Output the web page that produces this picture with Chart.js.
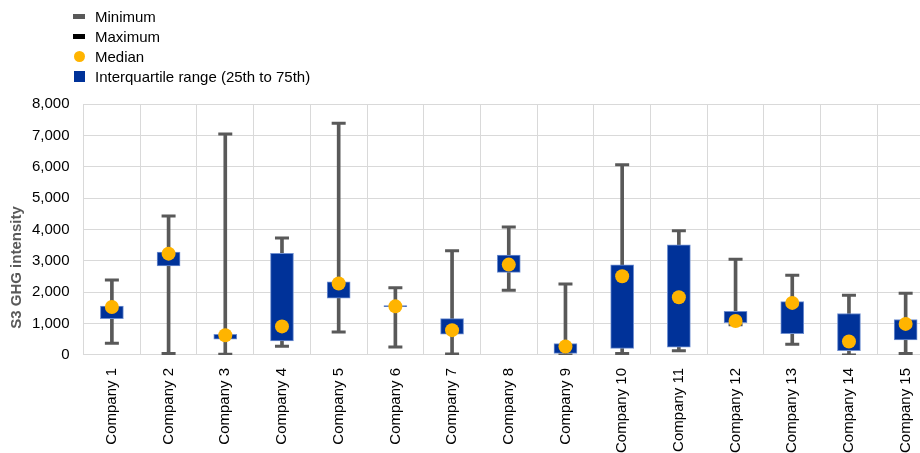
<!DOCTYPE html>
<html>
<head>
<meta charset="utf-8">
<script src="https://cdn.jsdelivr.net/npm/chart.js@4"></script>
<style>
  html, body { margin: 0; padding: 0; background: #fff; overflow: hidden; }
  #wrap { position: relative; width: 920px; height: 453px; overflow: hidden; }
  #legend { position: absolute; left: 73px; top: 6px; font: 15px Arial, "Liberation Sans", sans-serif; color: #000; }
  #legend .item { display: flex; align-items: center; height: 20px; }
  #legend .mark { width: 12px; margin-right: 10px; display: flex; justify-content: center; align-items: center; }
</style>
</head>
<body>
<div id="wrap">
  <canvas id="chart" width="944" height="466"></canvas>
  <div id="legend"></div>
</div>
<script>
const categories = ['Company 1', 'Company 2', 'Company 3', 'Company 4', 'Company 5',
  'Company 6', 'Company 7', 'Company 8', 'Company 9', 'Company 10',
  'Company 11', 'Company 12', 'Company 13', 'Company 14', 'Company 15'];
const minimum = [370, 50, 20, 280, 730, 250, 30, 2060, 0, 50, 130, 960, 340, 0, 50];
const maximum = [2390, 4430, 7040, 3730, 7390, 2140, 3320, 4080, 2260, 6060, 3960, 3050, 2540, 1900, 1970];
const quartile1 = [1160, 2840, 500, 450, 1810, 1540, 660, 2630, 50, 210, 250, 1030, 680, 140, 480];
const quartile3 = [1560, 3280, 660, 3240, 2330, 1570, 1160, 3180, 360, 2870, 3510, 1390, 1700, 1320, 1130];
const median = [1530, 3230, 630, 910, 2280, 1550, 790, 2880, 270, 2510, 1840, 1080, 1660, 430, 990];

const GREY = '#595959';
const ORANGE = '#FFB400';
const BLUE = '#003299';
const FONT = 'Arial, "Liberation Sans", sans-serif';

// y axis title sits a bit below the middle, like the original
const yTitle = {
  id: 'yTitle',
  afterDraw(chart) {
    const { ctx, chartArea } = chart;
    ctx.save();
    ctx.translate(17, (chartArea.top + chartArea.bottom) / 2 + 38);
    ctx.rotate(-Math.PI / 2);
    ctx.font = 'bold 15px ' + FONT;
    ctx.fillStyle = GREY;
    ctx.textAlign = 'center';
    ctx.textBaseline = 'middle';
    ctx.fillText('S3 GHG intensity', 0, 0);
    ctx.restore();
  }
};

const chart = new Chart(document.getElementById('chart'), {
  data: {
    labels: categories,
    datasets: [
      {
        type: 'line',
        label: 'Minimum',
        data: minimum,
        showLine: false,
        pointStyle: 'line',
        pointRadius: 7,
        pointBorderWidth: 3,
        borderColor: GREY,
        backgroundColor: GREY,
        legendColor: GREY,
        legendShape: 'bar',
        order: 2
      },
      {
        type: 'line',
        label: 'Maximum',
        data: maximum,
        showLine: false,
        pointStyle: 'line',
        pointRadius: 7,
        pointBorderWidth: 3,
        borderColor: GREY,
        backgroundColor: GREY,
        legendColor: '#000000',
        legendShape: 'bar',
        order: 2
      },
      {
        type: 'line',
        label: 'Median',
        data: median,
        showLine: false,
        pointStyle: 'circle',
        pointRadius: 7,
        pointBorderWidth: 0,
        borderColor: ORANGE,
        backgroundColor: ORANGE,
        legendColor: ORANGE,
        legendShape: 'circle',
        order: 1
      },
      {
        type: 'bar',
        label: 'Interquartile range (25th to 75th)',
        data: quartile1.map((q, i) => [q, quartile3[i]]),
        backgroundColor: BLUE,
        borderColor: '#6f8fd0',
        borderWidth: 1,
        borderSkipped: false,
        barThickness: 23,
        grouped: false,
        legendColor: BLUE,
        legendShape: 'square',
        order: 4
      },
      {
        type: 'bar',
        label: 'whisker',
        data: minimum.map((m, i) => [m, maximum[i]]),
        backgroundColor: GREY,
        barThickness: 3,
        grouped: false,
        order: 5
      }
    ]
  },
  options: {
    responsive: false,
    animation: false,
    layout: { padding: { top: 104, left: 18, right: 0, bottom: 0 } },
    plugins: {
      legend: { display: false },
      tooltip: { enabled: false }
    },
    scales: {
      x: {
        offset: true,
        grid: { color: '#d9d9d9', offset: true, drawTicks: false },
        border: { color: '#d9d9d9' },
        ticks: {
          minRotation: 90,
          maxRotation: 90,
          padding: 13,
          color: '#000',
          font: { family: FONT, size: 15 }
        }
      },
      y: {
        min: 0,
        max: 8000,
        grid: { color: '#d9d9d9', drawTicks: false },
        border: { color: '#d9d9d9' },
        ticks: {
          stepSize: 1000,
          padding: 14,
          color: '#000',
          font: { family: FONT, size: 15 },
          callback: v => v.toLocaleString('en-US')
        }
      }
    }
  },
  plugins: [yTitle]
});

// legend built from the datasets
const legend = document.getElementById('legend');
chart.data.datasets.filter(d => d.legendShape).forEach(d => {
  const item = document.createElement('div');
  item.className = 'item';
  const mark = document.createElement('span');
  mark.className = 'mark';
  const sw = document.createElement('span');
  sw.style.background = d.legendColor;
  if (d.legendShape === 'bar') { sw.style.width = '14px'; sw.style.height = '5px'; }
  if (d.legendShape === 'circle') { sw.style.width = '11px'; sw.style.height = '11px'; sw.style.borderRadius = '50%'; }
  if (d.legendShape === 'square') { sw.style.width = '11px'; sw.style.height = '11px'; }
  mark.appendChild(sw);
  const txt = document.createElement('span');
  txt.textContent = d.label;
  item.appendChild(mark);
  item.appendChild(txt);
  legend.appendChild(item);
});
</script>
</body>
</html>
